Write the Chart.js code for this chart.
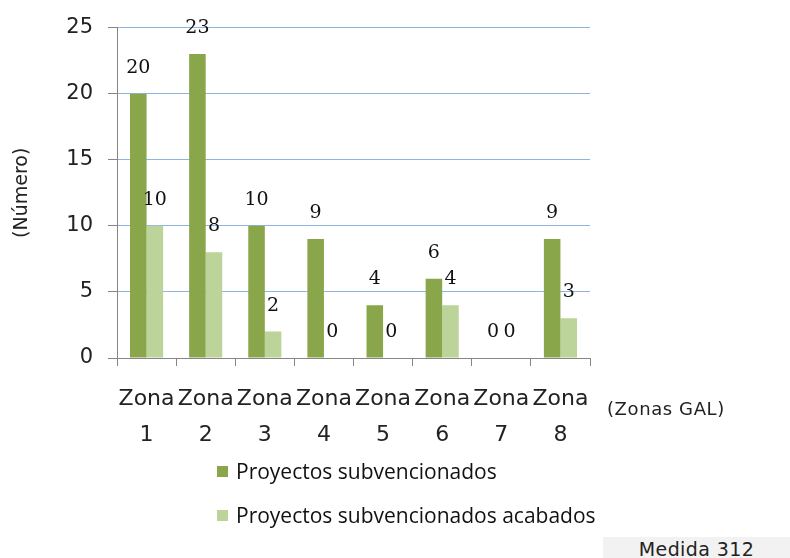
<!DOCTYPE html>
<html>
<head>
<meta charset="utf-8">
<script src="https://cdn.jsdelivr.net/npm/chart.js@4"></script>
<style>
  body { margin: 0; background: #fff; }
  #wrap { position: relative; width: 790px; height: 558px; }
  #chart { position: absolute; left: 0; top: 0; }
  .note { position: absolute; font-family: "DejaVu Sans", sans-serif; color: #222; white-space: nowrap; }
  .legend { position: absolute; left: 217px; font-family: "Open Sans", sans-serif; font-size: 21px; color: #111; white-space: nowrap; }
  .legend span.box { display: inline-block; width: 11px; height: 11px; margin-right: 8px; vertical-align: 2px; }
  #medida { position: absolute; left: 603px; top: 537px; width: 187px; height: 21px; background: #f2f2f2;
            font-family: "DejaVu Sans", sans-serif; font-size: 19px; letter-spacing: 0.4px; color: #222; text-align: center; line-height: 24px; }
</style>
</head>
<body>
<div id="wrap">
  <canvas id="chart" width="790" height="558"></canvas>
  <div class="note" id="zonasGal" style="left:607px; top:398px; font-size:18px; letter-spacing:0.6px;">(Zonas GAL)</div>
  <div class="legend" id="leg1" style="top:457px;"></div>
  <div class="legend" id="leg2" style="top:501px;"></div>
  <div id="medida">Medida 312</div>
</div>
<script>
// datos
var zonas = [["Zona","1"],["Zona","2"],["Zona","3"],["Zona","4"],["Zona","5"],["Zona","6"],["Zona","7"],["Zona","8"]];
var subvencionados = [20, 23, 10, 9, 4, 6, 0, 9];
var acabados = [10, 8, 2, 0, 0, 4, 0, 3];
var serieNombres = ["Proyectos subvencionados", "Proyectos subvencionados acabados"];
var yTicks = [0, 5, 10, 15, 20, 25];

var verdeOscuro = "#8aa64b";
var verdeClaro = "#bcd39a";
var gris = "#868686";

// etiquetas encima de cada barra
var etiquetas = {
    id: "etiquetas",
    afterDatasetsDraw: function (chart) {
        var ctx = chart.ctx;
        ctx.save();
        ctx.font = "19px 'DejaVu Serif', serif";
        ctx.fillStyle = "#111";
        ctx.textAlign = "center";
        ctx.textBaseline = "middle";
        chart.data.datasets.forEach(function (ds, i) {
            chart.getDatasetMeta(i).data.forEach(function (bar, j) {
                ctx.fillText(String(ds.data[j]), bar.x, bar.y - 26);
            });
        });
        ctx.restore();
    }
};

var ctx = document.getElementById("chart").getContext("2d");
var chart = new Chart(ctx, {
    type: "bar",
    data: {
        labels: zonas,
        datasets: [
            { label: serieNombres[0], data: subvencionados, backgroundColor: verdeOscuro },
            { label: serieNombres[1], data: acabados, backgroundColor: verdeClaro }
        ]
    },
    options: {
        responsive: false,
        animation: false,
        devicePixelRatio: 1,
        layout: { padding: { left: 0, top: 25, right: 200, bottom: 0 } },
        datasets: { bar: { categoryPercentage: 0.56, barPercentage: 1 } },
        plugins: { legend: { display: false }, tooltip: { enabled: false } },
        scales: {
            x: {
                offset: true,
                grid: { drawOnChartArea: false, offset: true, tickColor: gris, tickLength: 8 },
                border: { color: gris },
                ticks: { color: "#222", padding: 16, maxRotation: 0, autoSkip: false,
                         font: { family: "DejaVu Sans", size: 22, lineHeight: 1.6 } },
                afterFit: function (s) { s.height = 200; }
            },
            y: {
                min: 0, max: 25,
                afterBuildTicks: function (s) { s.ticks = yTicks.map(function (v) { return { value: v }; }); },
                grid: { color: "#8eb4e3", tickColor: gris, tickLength: 9 },
                border: { color: gris },
                ticks: { color: "#222", padding: 15, font: { family: "DejaVu Sans", size: 21 } },
                title: { display: true, text: "(Número)", color: "#222", padding: { top: 11, bottom: 0 },
                         font: { family: "DejaVu Sans", size: 19 } },
                afterFit: function (s) { s.width = 117; }
            }
        }
    },
    plugins: [etiquetas]
});

// leyenda
document.getElementById("leg1").innerHTML = '<span class="box" style="background:' + verdeOscuro + '"></span>' + serieNombres[0];
document.getElementById("leg2").innerHTML = '<span class="box" style="background:' + verdeClaro + '"></span>' + serieNombres[1];
</script>
</body>
</html>
